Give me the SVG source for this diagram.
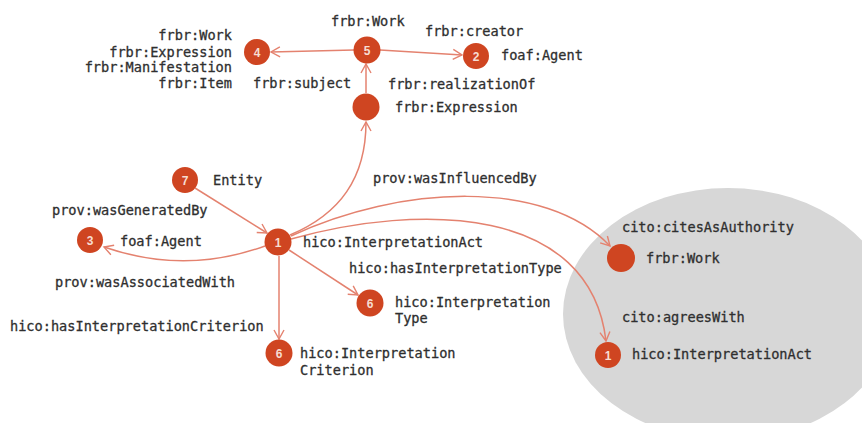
<svg xmlns="http://www.w3.org/2000/svg" width="862" height="423" viewBox="0 0 862 423">
  <defs>
    <style>
      .lbl { font-family: "DejaVu Sans Mono", "Liberation Mono", monospace; font-size: 13.6px; fill: #2f2f2f; stroke: #2f2f2f; stroke-width: 0.3px; }
      .end { text-anchor: end; }
      .node { fill: #cf4521; }
      .num { font-family: "Liberation Sans", Arial, sans-serif; font-size: 12px; font-weight: bold; fill: #f7ddd2; text-anchor: middle; }
      .edge { fill: none; stroke: #e4826f; stroke-width: 1.5; marker-end: url(#arrow); }
    </style>
    <marker id="arrow" markerUnits="userSpaceOnUse" markerWidth="12" markerHeight="12" viewBox="0 0 10 12" refX="9" refY="6" orient="auto">
      <path d="M0,1 L9,6 L0,11" fill="none" stroke="#e4826f" stroke-width="1.4"/>
    </marker>
  </defs>

  <rect width="862" height="423" fill="#ffffff"/>

  <!-- citation group background -->
  <ellipse id="cited-area" cx="728" cy="314" rx="165" ry="126" fill="#d7d7d7"/>

  <!-- connectors -->
  <g id="connectors">
    <line class="edge" x1="354" y1="50" x2="271" y2="52"/>
    <line class="edge" x1="380" y1="50" x2="462" y2="55"/>
    <line class="edge" x1="366" y1="93" x2="366" y2="64"/>
    <path class="edge" d="M290 235 C340 214 366 178 366 122"/>
    <line class="edge" x1="195" y1="188" x2="267" y2="233"/>
    <path class="edge" d="M265 246 Q185 275 104 247"/>
    <line class="edge" x1="289" y1="250" x2="358" y2="295"/>
    <line class="edge" x1="279" y1="256" x2="279" y2="339"/>
    <path class="edge" d="M291 236 C400 185 545 178 610 246"/>
    <path class="edge" d="M291 239 C420 203 590 205 606 341"/>
  </g>

  <!-- work node -->
  <g id="n-work">
    <circle class="node" cx="367" cy="50" r="13.5"/>
    <text class="num" x="367" y="54.5">5</text>
    <text class="lbl" x="331" y="26">frbr:Work</text>
  </g>

  <g id="n-subject">
    <circle class="node" cx="257" cy="52" r="13"/>
    <text class="num" x="257" y="56.5">4</text>
    <text class="lbl end" x="232" y="40">frbr:Work</text>
    <text class="lbl end" x="232" y="57">frbr:Expression</text>
    <text class="lbl end" x="232" y="72">frbr:Manifestation</text>
    <text class="lbl end" x="232" y="88">frbr:Item</text>
  </g>

  <g id="n-creator">
    <circle class="node" cx="476" cy="56" r="13"/>
    <text class="num" x="476" y="60.5">2</text>
    <text class="lbl" x="501" y="60">foaf:Agent</text>
  </g>

  <g id="n-expression">
    <circle class="node" cx="366" cy="107" r="13.5"/>
    <text class="lbl" x="395" y="112">frbr:Expression</text>
  </g>

  <g id="n-entity">
    <circle class="node" cx="185" cy="180" r="13"/>
    <text class="num" x="185" y="184.5">7</text>
    <text class="lbl" x="213" y="185">Entity</text>
  </g>

  <g id="n-agent">
    <circle class="node" cx="90" cy="240" r="13"/>
    <text class="num" x="90" y="244.5">3</text>
    <text class="lbl" x="120" y="246">foaf:Agent</text>
  </g>

  <g id="n-act">
    <circle class="node" cx="278" cy="242" r="13.5"/>
    <text class="num" x="278" y="246.5">1</text>
    <text class="lbl" x="303" y="247">hico:InterpretationAct</text>
  </g>

  <g id="n-type">
    <circle class="node" cx="370" cy="303" r="13.5"/>
    <text class="num" x="370" y="307.5">6</text>
    <text class="lbl" x="395" y="307">hico:Interpretation</text>
    <text class="lbl" x="395" y="323">Type</text>
  </g>

  <g id="n-criterion">
    <circle class="node" cx="279" cy="353" r="13.5"/>
    <text class="num" x="279" y="357.5">6</text>
    <text class="lbl" x="300" y="358">hico:Interpretation</text>
    <text class="lbl" x="300" y="375">Criterion</text>
  </g>

  <g id="n-cited-work">
    <circle class="node" cx="621" cy="258" r="14"/>
    <text class="lbl" x="646" y="263">frbr:Work</text>
  </g>

  <g id="n-agreed-act">
    <circle class="node" cx="608" cy="355" r="13"/>
    <text class="num" x="608" y="359.5">1</text>
    <text class="lbl" x="632" y="359">hico:InterpretationAct</text>
  </g>

  <!-- property labels -->
  <g id="edge-labels">
    <text class="lbl" x="425" y="36">frbr:creator</text>
    <text class="lbl" x="253" y="88">frbr:subject</text>
    <text class="lbl" x="388" y="89">frbr:realizationOf</text>
    <text class="lbl" x="373" y="183">prov:wasInfluencedBy</text>
    <text class="lbl" x="52" y="215">prov:wasGeneratedBy</text>
    <text class="lbl" x="55" y="287">prov:wasAssociatedWith</text>
    <text class="lbl" x="349" y="273">hico:hasInterpretationType</text>
    <text class="lbl" x="10" y="331">hico:hasInterpretationCriterion</text>
    <text class="lbl" x="622" y="232">cito:citesAsAuthority</text>
    <text class="lbl" x="622" y="322">cito:agreesWith</text>
  </g>
</svg>
